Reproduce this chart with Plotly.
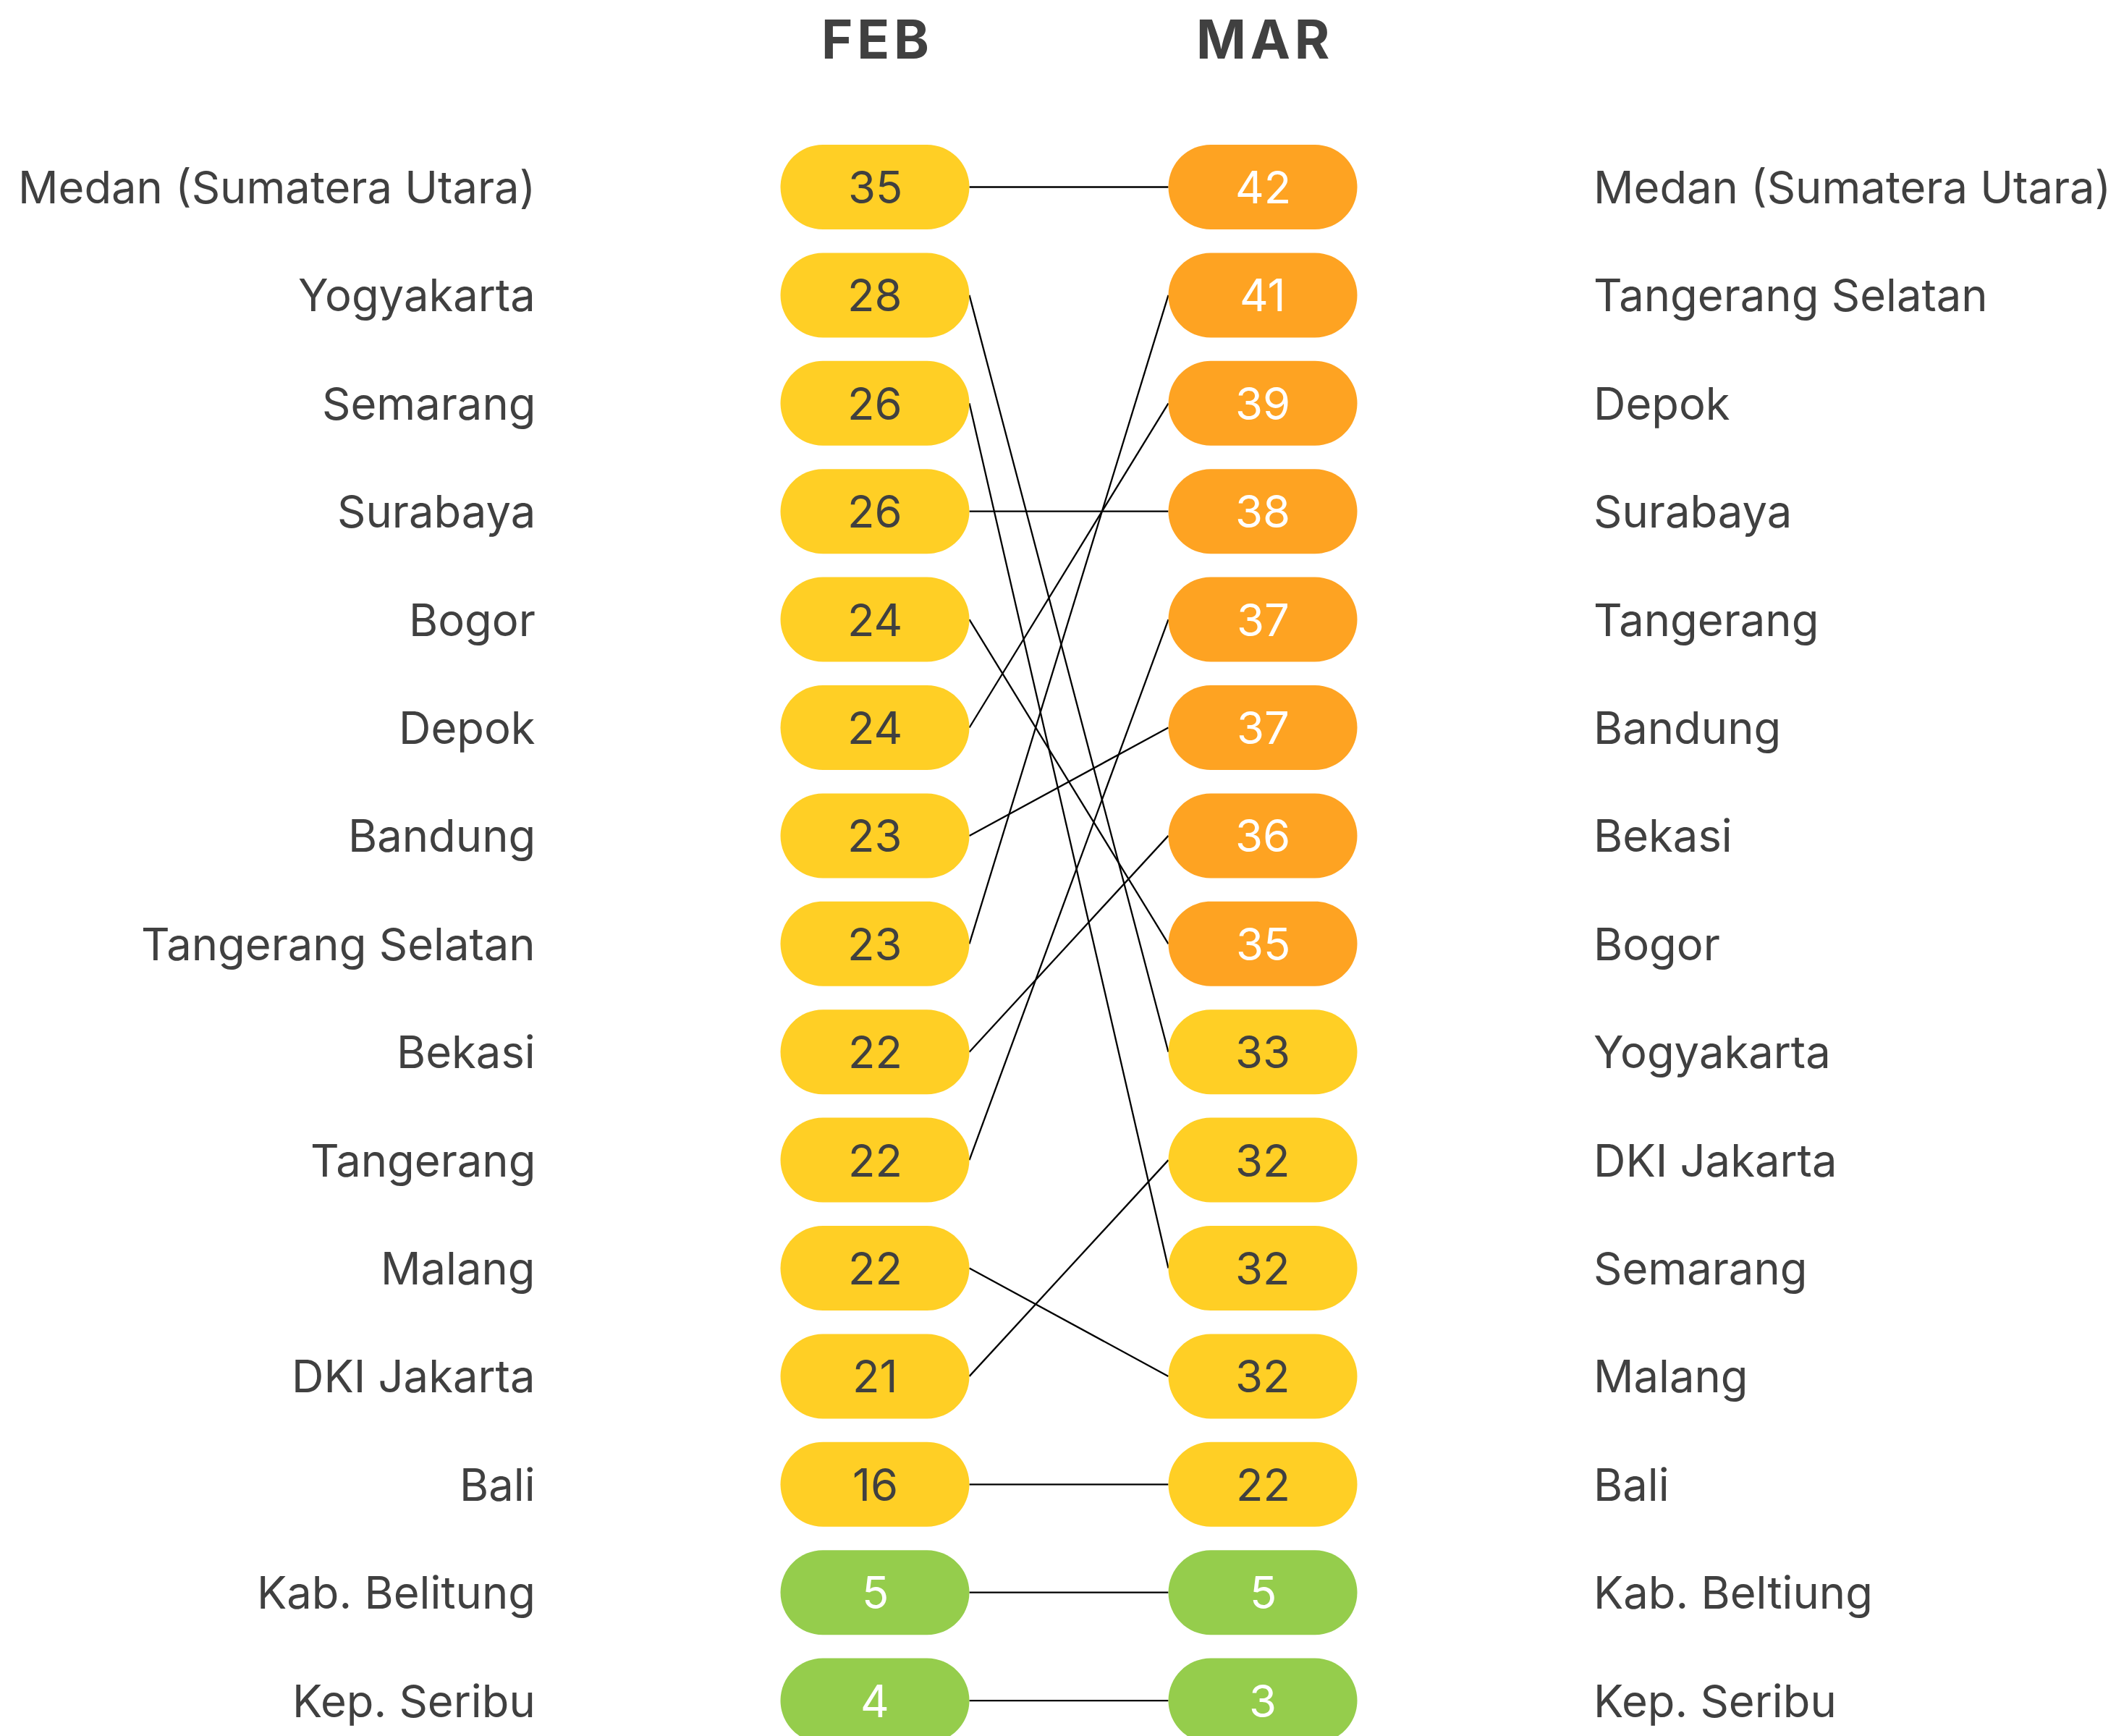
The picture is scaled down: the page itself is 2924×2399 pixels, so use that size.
import plotly.graph_objects as go

# ---------------- data ----------------
months = ["FEB", "MAR"]

feb_names = ["Medan (Sumatera Utara)", "Yogyakarta", "Semarang", "Surabaya", "Bogor",
             "Depok", "Bandung", "Tangerang Selatan", "Bekasi", "Tangerang", "Malang",
             "DKI Jakarta", "Bali", "Kab. Belitung", "Kep. Seribu"]
feb_values = [35, 28, 26, 26, 24, 24, 23, 23, 22, 22, 22, 21, 16, 5, 4]

mar_names = ["Medan (Sumatera Utara)", "Tangerang Selatan", "Depok", "Surabaya", "Tangerang",
             "Bandung", "Bekasi", "Bogor", "Yogyakarta", "DKI Jakarta", "Semarang", "Malang",
             "Bali", "Kab. Beltiung", "Kep. Seribu"]
mar_values = [42, 41, 39, 38, 37, 37, 36, 35, 33, 32, 32, 32, 22, 5, 3]

# FEB row index -> MAR row index (same city)
feb_to_mar = [0, 8, 10, 3, 7, 2, 5, 1, 6, 4, 11, 9, 12, 13, 14]

# ---------------- style / layout constants ----------------
W, H = 2924, 2399
COL_PX = [1209, 1745]          # pixel centre of the two columns
ROW0_PX, ROW_STEP_PX = 258.5, 149.4
PILL_W, PILL_H = 261, 117
LEFT_LABEL_PX, RIGHT_LABEL_PX = 742, 2200
HEADER_PX = 54

YELLOW, ORANGE, GREEN = "#FFCF25", "#FEA322", "#95CD4C"
DARK = "#404040"
FONT = "Inter"
TEXT_SIZE = 61.5

px_per_x = COL_PX[1] - COL_PX[0]
x_range = [-COL_PX[0] / px_per_x, (W - COL_PX[0]) / px_per_x]
y_range = [(H - ROW0_PX) / ROW_STEP_PX, -ROW0_PX / ROW_STEP_PX]


def px_to_x(p):
    return (p - COL_PX[0]) / px_per_x


def px_to_y(p):
    return (p - ROW0_PX) / ROW_STEP_PX


def pill_color(col, v):
    if v <= 5:
        return GREEN
    if col == 1 and v >= 35:
        return ORANGE
    return YELLOW


def pill_path():
    hw, r = PILL_W / 2, PILL_H / 2
    s = hw - r
    k = 0.5523 * r
    return (f"M {-s},{-r} L {s},{-r} C {s + k},{-r} {hw},{-k} {hw},0 "
            f"C {hw},{k} {s + k},{r} {s},{r} L {-s},{r} "
            f"C {-s - k},{r} {-hw},{k} {-hw},0 C {-hw},{-k} {-s - k},{-r} {-s},{-r} Z")


fig = go.Figure()

# connecting lines
edge = (PILL_W / 2) / px_per_x
for i, j in enumerate(feb_to_mar):
    fig.add_trace(go.Scatter(
        x=[0 + edge, 1 - edge], y=[i, j], mode="lines",
        line=dict(color="black", width=2.3), hoverinfo="skip", showlegend=False))

shapes, annotations = [], []
path = pill_path()
for col, (names, vals) in enumerate([(feb_names, feb_values), (mar_names, mar_values)]):
    for r, v in enumerate(vals):
        c = pill_color(col, v)
        shapes.append(dict(type="path", xref="x", yref="y", xsizemode="pixel", ysizemode="pixel",
                           xanchor=col, yanchor=r, path=path, fillcolor=c,
                           line=dict(width=0), layer="above"))
        annotations.append(dict(x=col, y=r, xref="x", yref="y", text=str(v), showarrow=False,
                                xanchor="center", yanchor="middle",
                                font=dict(family=FONT, size=TEXT_SIZE,
                                          color="white" if c != YELLOW else DARK)))
    # city labels
    for r, n in enumerate(names):
        if col == 0:
            annotations.append(dict(x=px_to_x(LEFT_LABEL_PX), y=r, xref="x", yref="y", text=n,
                                    showarrow=False, xanchor="right", yanchor="middle",
                                    font=dict(family=FONT, size=TEXT_SIZE, color=DARK)))
        else:
            annotations.append(dict(x=px_to_x(RIGHT_LABEL_PX), y=r, xref="x", yref="y", text=n,
                                    showarrow=False, xanchor="left", yanchor="middle",
                                    font=dict(family=FONT, size=TEXT_SIZE, color=DARK)))

# month headers (letter-spaced)
for col, m in enumerate(months):
    annotations.append(dict(x=col, y=px_to_y(HEADER_PX), xref="x", yref="y",
                            text="<b>" + "\u200a".join(m) + "</b>", showarrow=False,
                            xanchor="center", yanchor="middle",
                            font=dict(family=FONT, size=74, color=DARK)))

fig.update_layout(
    width=W, height=H, margin=dict(l=0, r=0, t=0, b=0),
    paper_bgcolor="white", plot_bgcolor="white",
    xaxis=dict(range=x_range, visible=False, fixedrange=True),
    yaxis=dict(range=y_range, visible=False, fixedrange=True),
    shapes=shapes, annotations=annotations, showlegend=False,
)

fig.write_html("out.html", config={"displayModeBar": False},
               post_script="document.body.style.margin='0';")
